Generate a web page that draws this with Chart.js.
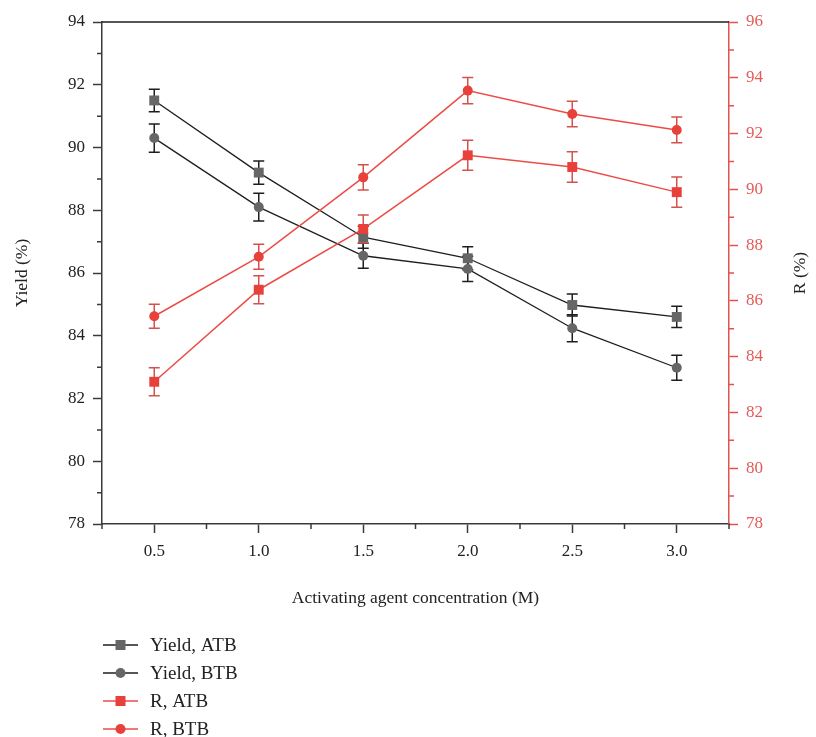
<!DOCTYPE html>
<html>
<head>
<meta charset="utf-8">
<script src="https://cdn.jsdelivr.net/npm/chart.js@4"></script>
<style>
  html, body { margin: 0; padding: 0; background: #ffffff; }
  #wrap { width: 816px; height: 737px; position: relative; }
</style>
</head>
<body>
<div id="wrap"><canvas id="c" width="816" height="737"></canvas></div>
<script>
// Activating agent concentration (M)
const concentration = [0.5, 1.0, 1.5, 2.0, 2.5, 3.0];

// Yield (%) — left axis
const yieldATB    = [91.5, 89.2, 87.14, 86.47, 84.98, 84.6];
const yieldATBErr = [0.36, 0.37, 0.35, 0.37, 0.35, 0.34];
const yieldBTB    = [90.3, 88.1, 86.55, 86.13, 84.24, 82.98];
const yieldBTBErr = [0.45, 0.44, 0.40, 0.40, 0.43, 0.40];

// R (%) — right axis
const rATB    = [83.1, 86.4, 88.58, 91.22, 90.8, 89.9];
const rATBErr = [0.50, 0.50, 0.50, 0.54, 0.55, 0.54];
const rBTB    = [85.45, 87.58, 90.43, 93.54, 92.7, 92.13];
const rBTBErr = [0.43, 0.45, 0.45, 0.47, 0.46, 0.46];

// Axis ticks
const xTicks = [0.5, 1.0, 1.5, 2.0, 2.5, 3.0];
const xMinorTicks = [0.25, 0.75, 1.25, 1.75, 2.25, 2.75, 3.25];
const yieldTicks = [78, 80, 82, 84, 86, 88, 90, 92, 94];
const yieldMinorTicks = [79, 81, 83, 85, 87, 89, 91, 93];
const rTicks = [78, 80, 82, 84, 86, 88, 90, 92, 94, 96];
const rMinorTicks = [79, 81, 83, 85, 87, 89, 91, 93, 95];

const FONT = '"Liberation Serif", "DejaVu Serif", serif';
const DARK = '#1e1e1e';
const AXIS_DARK = '#3a3a3a';
const GREY_MARK = '#666666';
const RED_LINE = '#ec4c46';
const RED_MARK = '#e8403a';
const RED_ERR = '#d2524e';
const RED_AXIS = '#e05350';
const RED_TEXT = '#e55a57';

const toPoints = (ys) => concentration.map((x, i) => ({ x: x, y: ys[i] }));

const datasets = [
  { label: 'Yield, ATB', data: toPoints(yieldATB), errors: yieldATBErr, yAxisID: 'yL',
    borderColor: DARK, borderWidth: 1.3, pointStyle: 'rect', pointRadius: 7,
    pointBackgroundColor: GREY_MARK, pointBorderColor: GREY_MARK, pointBorderWidth: 0,
    errColor: DARK, order: 2 },
  { label: 'Yield, BTB', data: toPoints(yieldBTB), errors: yieldBTBErr, yAxisID: 'yL',
    borderColor: DARK, borderWidth: 1.3, pointStyle: 'circle', pointRadius: 5,
    pointBackgroundColor: GREY_MARK, pointBorderColor: GREY_MARK, pointBorderWidth: 0,
    errColor: DARK, order: 2 },
  { label: 'R, ATB', data: toPoints(rATB), errors: rATBErr, yAxisID: 'yR',
    borderColor: RED_LINE, borderWidth: 1.5, pointStyle: 'rect', pointRadius: 7,
    pointBackgroundColor: RED_MARK, pointBorderColor: RED_MARK, pointBorderWidth: 0,
    errColor: RED_ERR, order: 1 },
  { label: 'R, BTB', data: toPoints(rBTB), errors: rBTBErr, yAxisID: 'yR',
    borderColor: RED_LINE, borderWidth: 1.5, pointStyle: 'circle', pointRadius: 5,
    pointBackgroundColor: RED_MARK, pointBorderColor: RED_MARK, pointBorderWidth: 0,
    errColor: RED_ERR, order: 1 }
];

// Vertical error bars with caps, drawn underneath the series
const errorBars = {
  id: 'errorBars',
  beforeDatasetsDraw(chart) {
    const ctx = chart.ctx;
    const xs = chart.scales.x;
    chart.data.datasets.forEach((ds) => {
      const ys = chart.scales[ds.yAxisID];
      ctx.save();
      ctx.strokeStyle = ds.errColor;
      ctx.lineWidth = 1.5;
      ds.data.forEach((p, i) => {
        const e = ds.errors[i];
        const px = xs.getPixelForValue(p.x);
        const top = ys.getPixelForValue(p.y + e);
        const bot = ys.getPixelForValue(p.y - e);
        ctx.beginPath();
        ctx.moveTo(px, top); ctx.lineTo(px, bot);
        ctx.moveTo(px - 5.5, top); ctx.lineTo(px + 5.5, top);
        ctx.moveTo(px - 5.5, bot); ctx.lineTo(px + 5.5, bot);
        ctx.stroke();
      });
      ctx.restore();
    });
  }
};

// Top frame line, minor ticks, right axis title and the stacked legend
const frame = {
  id: 'frame',
  afterDraw(chart) {
    const ctx = chart.ctx;
    const a = chart.chartArea;
    const xs = chart.scales.x, yl = chart.scales.yL, yr = chart.scales.yR;
    ctx.save();
    ctx.lineWidth = 1.5;
    ctx.strokeStyle = DARK;
    ctx.beginPath();
    ctx.moveTo(a.left, a.top); ctx.lineTo(a.right, a.top);
    ctx.stroke();

    ctx.strokeStyle = AXIS_DARK;
    ctx.beginPath();
    xMinorTicks.forEach(v => {
      const px = xs.getPixelForValue(v);
      ctx.moveTo(px, a.bottom); ctx.lineTo(px, a.bottom + 5);
    });
    yieldMinorTicks.forEach(v => {
      const py = yl.getPixelForValue(v);
      ctx.moveTo(a.left, py); ctx.lineTo(a.left - 5, py);
    });
    ctx.stroke();

    ctx.strokeStyle = RED_AXIS;
    ctx.beginPath();
    rMinorTicks.forEach(v => {
      const py = yr.getPixelForValue(v);
      ctx.moveTo(a.right, py); ctx.lineTo(a.right + 5, py);
    });
    ctx.stroke();

    // right axis title, reading bottom to top
    ctx.save();
    ctx.translate(800, (a.top + a.bottom) / 2);
    ctx.rotate(-Math.PI / 2);
    ctx.fillStyle = '#222222';
    ctx.font = '17.5px ' + FONT;
    ctx.textAlign = 'center';
    ctx.textBaseline = 'middle';
    ctx.fillText('R (%)', 0, 0);
    ctx.restore();

    // legend
    const rows = [645, 673, 701, 729];
    chart.data.datasets.forEach((ds, i) => {
      const y = rows[i];
      ctx.strokeStyle = ds.borderColor;
      ctx.lineWidth = ds.borderWidth;
      ctx.beginPath();
      ctx.moveTo(103, y); ctx.lineTo(138, y);
      ctx.stroke();
      ctx.fillStyle = ds.pointBackgroundColor;
      if (ds.pointStyle === 'rect') {
        ctx.fillRect(120.5 - 5, y - 5, 10, 10);
      } else {
        ctx.beginPath();
        ctx.arc(120.5, y, 5, 0, Math.PI * 2);
        ctx.fill();
      }
      ctx.fillStyle = '#222222';
      ctx.font = '19px ' + FONT;
      ctx.textAlign = 'left';
      ctx.textBaseline = 'middle';
      ctx.fillText(ds.label, 150, y + 1);
    });
    ctx.restore();
  }
};

new Chart(document.getElementById('c'), {
  type: 'line',
  data: { datasets: datasets },
  plugins: [errorBars, frame],
  options: {
    responsive: false,
    maintainAspectRatio: false,
    animation: false,
    layout: { padding: { left: 8, right: 0, top: 22, bottom: 124 } },
    plugins: { legend: { display: false }, tooltip: { enabled: false } },
    elements: { line: { tension: 0 } },
    scales: {
      x: {
        type: 'linear', min: 0.25, max: 3.25,
        afterBuildTicks: (s) => { s.ticks = xTicks.map(v => ({ value: v })); },
        afterFit: (s) => { s.height = 89; },
        border: { display: true, color: AXIS_DARK, width: 1.5 },
        grid: { display: true, drawOnChartArea: false, drawTicks: true, tickLength: 9, tickWidth: 1.5, tickColor: AXIS_DARK },
        ticks: { color: '#222222', font: { family: FONT, size: 17 }, padding: 8, maxRotation: 0,
                 callback: (v) => Number(v).toFixed(1) },
        title: { display: true, text: 'Activating agent concentration (M)', color: '#222222',
                 font: { family: FONT, size: 17.5 }, padding: { top: 4, bottom: 4 } }
      },
      yL: {
        type: 'linear', position: 'left', min: 78, max: 94,
        afterBuildTicks: (s) => { s.ticks = yieldTicks.map(v => ({ value: v })); },
        afterFit: (s) => { s.width = 94; },
        border: { display: true, color: AXIS_DARK, width: 1.5 },
        grid: { display: true, drawOnChartArea: false, drawTicks: true, tickLength: 9, tickWidth: 1.5, tickColor: AXIS_DARK },
        ticks: { color: '#222222', font: { family: FONT, size: 17 }, padding: 8,
                 callback: (v) => String(v) },
        title: { display: true, text: 'Yield (%)', color: '#222222',
                 font: { family: FONT, size: 17.5 }, padding: { top: 4, bottom: 4 } }
      },
      yR: {
        type: 'linear', position: 'right', min: 78, max: 96,
        afterBuildTicks: (s) => { s.ticks = rTicks.map(v => ({ value: v })); },
        afterFit: (s) => { s.width = 87; },
        border: { display: true, color: RED_AXIS, width: 1.5 },
        grid: { display: true, drawOnChartArea: false, drawTicks: true, tickLength: 9, tickWidth: 1.5, tickColor: RED_AXIS },
        ticks: { color: RED_TEXT, font: { family: FONT, size: 17 }, padding: 8,
                 callback: (v) => String(v) }
      }
    }
  }
});
</script>
</body>
</html>
